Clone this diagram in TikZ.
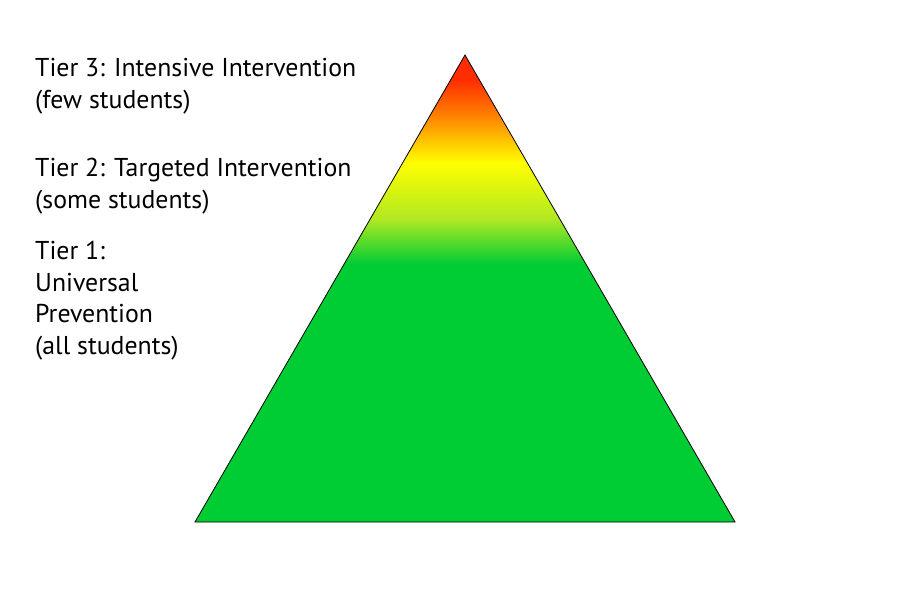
\documentclass[tikz,border=0pt]{standalone}
\usepackage{fontspec}
\setmainfont{PT Sans}
\definecolor{tierred}{RGB}{255,45,0}
\definecolor{tierorange}{RGB}{255,140,0}
\definecolor{tieryellow}{RGB}{255,255,0}
\definecolor{tierlime}{RGB}{175,232,35}
\definecolor{tiergreen}{RGB}{0,204,51}
\tikzset{
    tierlabel/.style={anchor=base west, align=left, inner sep=0pt,
        font=\fontsize{25.8}{31.5}\selectfont}
}
\begin{document}
\begin{tikzpicture}[x=1pt, y=-1pt]
    \useasboundingbox (0,0) rectangle (900,600);
    % corners of the pyramid
    \coordinate (apex) at (465,55);
    \coordinate (baseL) at (195,522);
    \coordinate (baseR) at (735,522);

    % colour bands, clipped to the pyramid
    \begin{scope}
        \clip (apex) -- (baseL) -- (baseR) -- cycle;
        \fill[tierred] (190,50) rectangle (740,80);
        \shade[top color=tierred, bottom color=tierorange] (190,79.5) rectangle (740,120);
        \shade[top color=tierorange, bottom color=tieryellow] (190,119.5) rectangle (740,163);
        \shade[top color=tieryellow, bottom color=tierlime] (190,162.5) rectangle (740,220);
        \shade[top color=tierlime, bottom color=tiergreen] (190,219.5) rectangle (740,264);
        \fill[tiergreen] (190,263.5) rectangle (740,530);
    \end{scope}
    \draw[line width=0.8pt, line join=miter] (apex) -- (baseL) -- (baseR) -- cycle;

% base anchor sits on the last line
\node[tierlabel] (tier3) at (35,108) {Tier 3: Intensive Intervention\\(few students)};
\node[tierlabel] (tier2) at (35,208) {Tier 2: Targeted Intervention\\(some students)};
\node[tierlabel] (tier1) at (35,354) {Tier 1:\\Universal\\Prevention\\(all students)};

\end{tikzpicture}
\end{document}
